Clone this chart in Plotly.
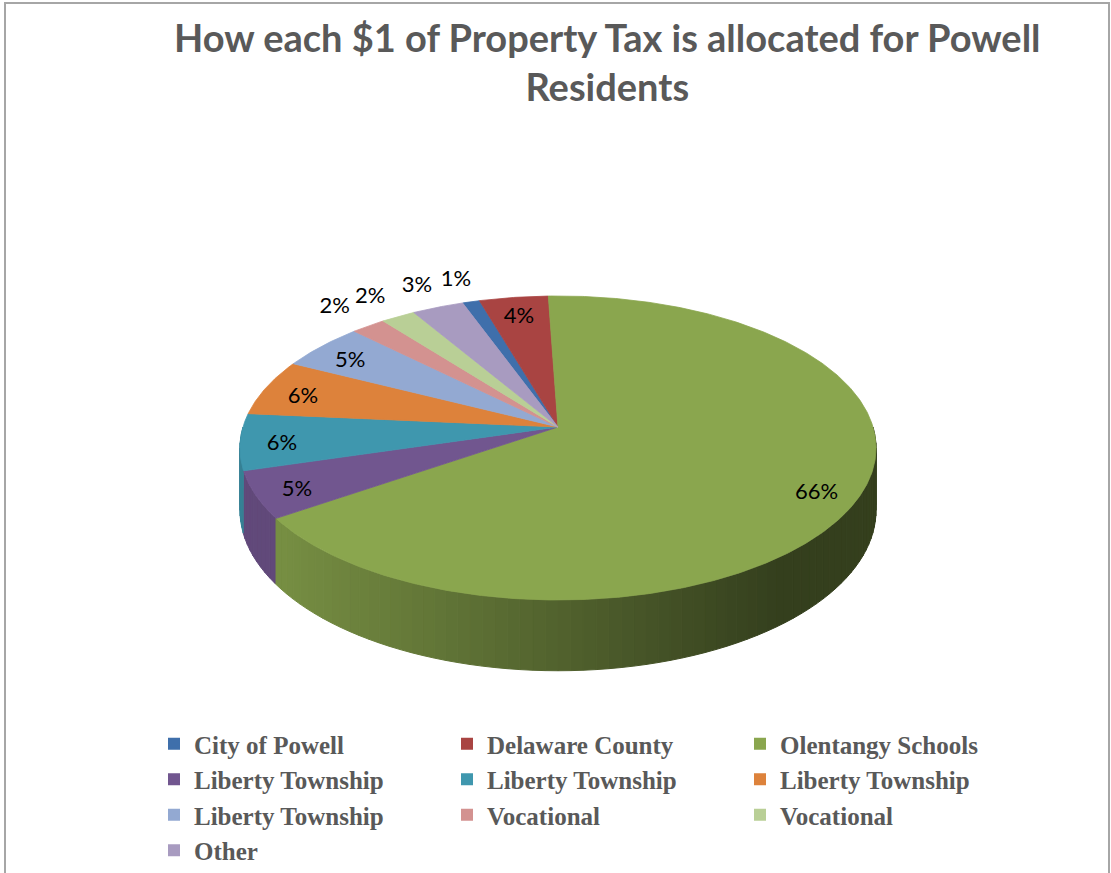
import math
import plotly.graph_objects as go

# ---------------- data ----------------
categories = ["City of Powell", "Delaware County", "Olentangy Schools",
              "Liberty Township", "Liberty Township", "Liberty Township",
              "Liberty Township", "Vocational", "Vocational", "Other"]
values = [1, 4, 66, 5, 6, 6, 5, 2, 2, 3]
colors = ["#3F6FAB", "#A94442", "#8AA64E", "#71568F", "#3F97AE",
          "#DD823B", "#93A9D2", "#D39290", "#B9CF96", "#A89BC0"]
title_text = "How each $1 of Property Tax is allocated for Powell<br>Residents"

# ---------------- 3D pie geometry (pixel space) ----------------
W, H = 1111, 873
CX, CY = 558, 427          # pie centre on screen
RX, RY = 315, 149.1        # projected radii
K = 0.138                  # perspective factor
DEPTH = 61                 # side thickness
START = -20.0              # angle of first slice (deg, clockwise from top)


def proj(theta, r=1.0, depth=0.0):
    t = math.radians(theta)
    X, Z = r * math.sin(t), r * math.cos(t)
    den = 1 + K * Z
    return CX + RX * X / den, CY - RY * Z / den + depth * DEPTH / den


def shade(hexcol, f):
    h = hexcol.lstrip("#")
    rgb = [int(h[i:i + 2], 16) for i in (0, 2, 4)]
    return "rgb({},{},{})".format(*[max(0, min(255, int(c * f))) for c in rgb])


total = sum(values)
bounds = []
a = START
for v in values:
    b = a + 360.0 * v / total
    bounds.append((a, b))
    a = b


def slice_at(theta):
    for i, (s, e) in enumerate(bounds):
        for off in (0, 360, -360):
            if s <= theta + off < e:
                return i
    return 0


fig = go.Figure()

# ---- side walls (front half), with horizontal gradient ----
STEP = 2.0
th = 90.0
while th < 270.0 - 1e-9:
    t1, t2 = th, min(th + STEP, 270.0)
    mid = (t1 + t2) / 2
    idx = slice_at(mid)
    pts_top, pts_bot = [], []
    n = 4
    for k in range(n + 1):
        tt = t1 + (t2 - t1) * k / n
        pts_top.append(proj(tt))
        pts_bot.append(proj(tt, depth=1))
    xs = [p[0] for p in pts_top] + [p[0] for p in reversed(pts_bot)]
    ys = [p[1] for p in pts_top] + [p[1] for p in reversed(pts_bot)]
    xm = proj(mid)[0]
    f = max(0.38, min(0.86, 0.86 - (xm - 280) * 0.46 / 480))
    c = shade(colors[idx], f)
    fig.add_trace(go.Scatter(x=xs + [xs[0]], y=ys + [ys[0]], mode="lines",
                             fill="toself", fillcolor=c,
                             line=dict(color=c, width=1),
                             hoverinfo="skip", showlegend=False))
    th = t2

# ---- top faces ----
for i, (s, e) in enumerate(bounds):
    n = max(4, int((e - s) / 0.5))
    xs, ys = [CX], [CY]
    for k in range(n + 1):
        px, py = proj(s + (e - s) * k / n)
        xs.append(px)
        ys.append(py)
    xs.append(CX)
    ys.append(CY)
    fig.add_trace(go.Scatter(x=xs, y=ys, mode="lines", fill="toself",
                             fillcolor=colors[i],
                             line=dict(color=colors[i], width=0.8),
                             hoverinfo="skip", showlegend=False))

# ---- data labels ----
lx, ly, lt = [], [], []
for i, (s, e) in enumerate(bounds):
    mid = (s + e) / 2
    inside = values[i] >= 4
    r = 0.87 if inside else 1.2
    px, py = proj(mid, r=r)
    lx.append(px)
    ly.append(py + (5 if inside else 0))
    lt.append(f"{values[i]}%")
fig.add_trace(go.Scatter(x=lx, y=ly, mode="text", text=lt,
                         textfont=dict(family="Lato", size=22, color="#000000"),
                         hoverinfo="skip", showlegend=False))

# ---- legend entries ----
for name, col in zip(categories, colors):
    fig.add_trace(go.Scatter(x=[None], y=[None], mode="markers", name=name,
                             marker=dict(symbol="square", size=12, color=col),
                             showlegend=True))

fig.update_layout(
    width=W, height=H,
    margin=dict(l=0, r=0, t=0, b=0, autoexpand=False),
    paper_bgcolor="white", plot_bgcolor="white",
    xaxis=dict(range=[0, W], visible=False, fixedrange=True),
    yaxis=dict(range=[H, 0], visible=False, fixedrange=True),
    annotations=[dict(text=title_text, xref="x", yref="y", x=607, y=12,
                      xanchor="center", yanchor="top", showarrow=False,
                      font=dict(family="Lato", size=38, color="#595959",
                                weight="bold"))],
    legend=dict(orientation="h", x=154 / W, xanchor="left",
                y=1 - 721 / H, yanchor="top",
                entrywidth=248, entrywidthmode="pixels",
                font=dict(family="Liberation Serif", size=25, color="#595959",
                          weight="bold"),
                itemsizing="constant", tracegroupgap=0,
                bgcolor="rgba(0,0,0,0)"),
    shapes=[dict(type="rect", xref="x", yref="y", x0=5, y0=3, x1=1109, y1=900,
                 line=dict(color="#A6A6A6", width=2), fillcolor="rgba(0,0,0,0)",
                 layer="above")],
)

fig.write_html("out.html")
